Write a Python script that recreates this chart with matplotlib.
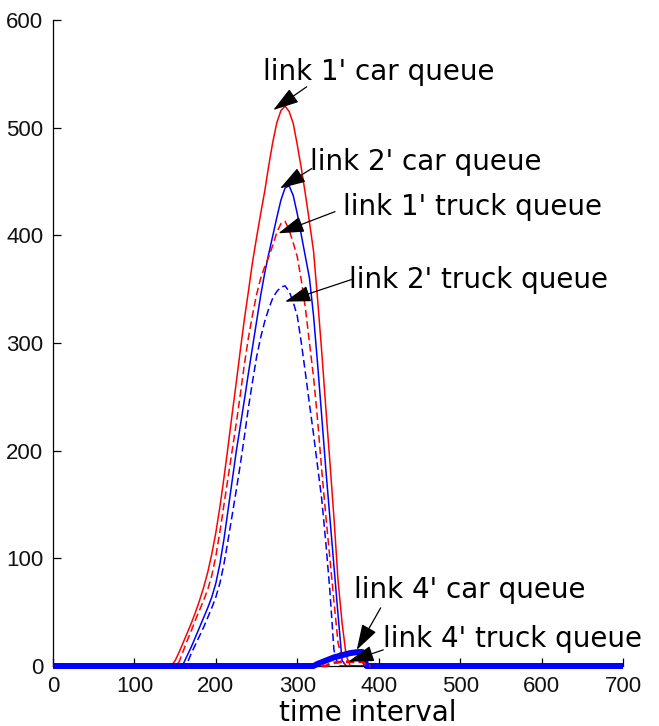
import matplotlib
matplotlib.use("Agg")
import matplotlib.pyplot as plt

# time grid (time interval) for the non-zero part of the queues
time_mid = list(range(140, 391, 5))

link1_car = [0, 0, 5, 13, 22, 31, 40, 50, 61, 73,
             87, 104, 124, 148, 175, 204, 234, 263, 293, 322,
             348, 375, 398, 420, 441, 465, 487, 505, 516, 520,
             515, 504, 484, 462, 438, 412, 385, 340, 292, 240,
             190, 138, 80, 40, 10, 0, 0, 0, 0, 0, 0]
link2_car = [0, 0, 0, 0, 2, 10, 18, 27, 36, 45,
             54, 64, 77, 95, 118, 145, 172, 199, 223, 247,
             272, 296, 320, 344, 365, 383, 400, 417, 433, 444,
             446, 437, 420, 400, 380, 360, 325, 280, 232, 183,
             138, 93, 48, 5, 0, 0, 0, 0, 0, 0, 0]
link1_truck = [0, 0, 0, 4, 14, 24, 33, 43, 52, 61,
               71, 84, 102, 125, 150, 175, 200, 225, 252, 280,
               305, 326, 345, 360, 371, 380, 391, 403, 411, 413,
               405, 393, 380, 358, 332, 300, 268, 228, 182, 140,
               100, 60, 22, 5, 0, 0, 0, 0, 0, 0, 0]
link2_truck = [0, 0, 0, 0, 0, 3, 12, 20, 28, 36,
               45, 54, 64, 77, 95, 117, 140, 163, 187, 213,
               240, 264, 287, 305, 320, 332, 342, 348, 352, 353,
               348, 338, 325, 300, 272, 243, 215, 185, 155, 115,
               70, 15, 0, 0, 0, 0, 0, 0, 0, 0, 0]
link4_car = [0, 0, 0, 0, 0, 0, 0, 0, 0, 0,
             0, 0, 0, 0, 0, 0, 0, 0, 0, 0,
             0, 0, 0, 0, 0, 0, 0, 0, 0, 0,
             0, 0, 0, 0, 0, 0, 0, 2, 3.5, 5,
             6.5, 8, 9, 10, 11, 12, 12.5, 13, 13, 0, 0]
link4_truck = [0, 0, 0, 0, 0, 0, 0, 0, 0, 0,
               0, 0, 0, 0, 0, 0, 0, 0, 0, 0,
               0, 0, 0, 0, 0, 0, 0, 0, 0, 0,
               0, 0, 0, 0, 0, 0, 0, 0, 0, 0,
               2, 3, 3.5, 4, 4, 4, 4, 4, 4, 0, 0]

x_ticks = [0, 100, 200, 300, 400, 500, 600, 700]
y_ticks = [0, 100, 200, 300, 400, 500, 600]
x_label = "time interval"

# annotations: label, text anchor (x, y), arrow tail, arrow tip (data coords)
labels = ["link 1' car queue", "link 2' car queue", "link 1' truck queue",
          "link 2' truck queue", "link 4' car queue", "link 4' truck queue"]
label_pos = [(258, 544), (315, 461), (356, 419), (364, 351), (370, 63), (405, 18)]
arrow_tail = [(311.6, 538), (317.7, 462), (346.3, 422), (366.8, 359), (402.4, 54), (405.6, 15)]
arrow_tip = [(270.5, 516.4), (278.8, 443.6), (276.7, 401.9), (284.9, 338.4), (373, 14.9), (362.6, 4.0)]

t_full = [0] + time_mid + [700]
def full(v):
    return [0] + list(v) + [0]

fig = plt.figure(figsize=(6.59, 7.26), dpi=100)
ax = fig.add_axes([53 / 659, 60 / 726, 570 / 659, 646 / 726])

dash = (0, (5, 2.5))
ax.plot(t_full, full(link1_car), color="#ff0000", lw=1.1, zorder=3)
ax.plot(t_full, full(link2_car), color="#0000ff", lw=1.1, zorder=3)
ax.plot(t_full, full(link1_truck), color="#ff0000", lw=1.1, ls=dash, zorder=3)
ax.plot(t_full, full(link2_truck), color="#0000ff", lw=1.1, ls=dash, zorder=3)
ax.plot(t_full, full(link4_car), color="#0000ff", lw=4.3, zorder=4,
        solid_capstyle="butt", clip_on=False)
# only the non-zero part of link 4 truck queue shows above the thick line
ax.plot(time_mid[38:], link4_truck[38:], color="#ff0000", lw=2.0,
        ls=(0, (3, 1.5)), zorder=5, clip_on=False)

ax.set_xlim(0, 700)
ax.set_ylim(0, 600)
ax.set_xticks(x_ticks)
ax.set_yticks(y_ticks)
for s in ["top", "right"]:
    ax.spines[s].set_visible(False)
for s in ["left", "bottom"]:
    ax.spines[s].set_linewidth(0.9)
    ax.spines[s].set_zorder(2)
ax.tick_params(direction="in", length=5.5, width=0.9, pad=7)

tick_font = ["Liberation Sans Narrow", "Liberation Sans", "DejaVu Sans"]
for lab in ax.get_xticklabels() + ax.get_yticklabels():
    lab.set_fontfamily(tick_font)
    lab.set_fontsize(16)
    lab.set_color("#111111")

ax.set_xlabel(x_label, fontsize=20, family="DejaVu Sans", va="top")
ax.xaxis.set_label_coords(0.553, -0.051)

for lab, pos, tail, tip in zip(labels, label_pos, arrow_tail, arrow_tip):
    ax.text(pos[0], pos[1], lab, ha="left", va="baseline", fontsize=20,
            family="DejaVu Sans", zorder=6, clip_on=False)
    ax.annotate("", xy=tip, xytext=tail,
                arrowprops=dict(arrowstyle="-|>,head_length=0.8,head_width=0.25",
                                color="black", lw=0.9, mutation_scale=20,
                                shrinkA=0, shrinkB=0),
                zorder=7, annotation_clip=False)

fig.savefig("out.png", dpi=100)
